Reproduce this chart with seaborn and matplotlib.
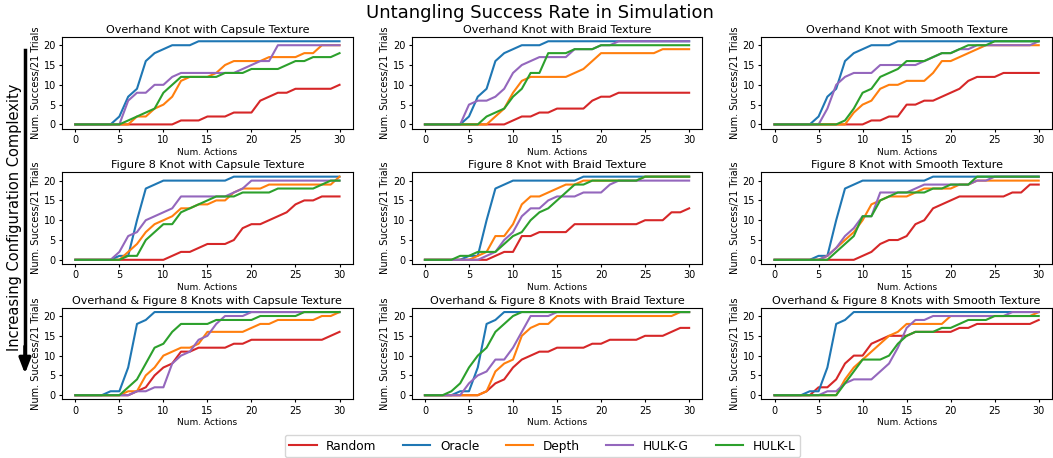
import matplotlib.pyplot as plt
import pandas as pd
import seaborn as sns

actions = list(range(31))
methods = ["Random", "Oracle", "Depth", "HULK-G", "HULK-L"]
colors = ["#d62728", "#1f77b4", "#ff7f0e", "#9467bd", "#2ca02c"]
knots = ["Overhand Knot", "Figure 8 Knot", "Overhand & Figure 8 Knots"]
textures = ["Capsule", "Braid", "Smooth"]

# oracle is the same for every texture of a knot
oracle_oh = [0, 0, 0, 0, 0, 2, 7, 9, 16, 18, 19, 20, 20, 20] + [21] * 17
oracle_f8 = [0, 0, 0, 0, 0, 1, 1, 10, 18, 19] + [20] * 8 + [21] * 13
oracle_both = [0, 0, 0, 0, 1, 1, 7, 18, 19] + [21] * 22

# Overhand knot
oh_capsule = {
    "Random": [0] * 12 + [1, 1, 1, 2, 2, 2, 3, 3, 3, 6, 7, 8, 8, 9, 9, 9, 9, 9, 10],
    "Oracle": oracle_oh,
    "Depth": [0] * 7 + [2, 2, 4, 5, 7, 11, 12, 12, 12, 13, 15, 16, 16, 16, 16, 17, 17, 17, 17, 18, 18, 20, 20, 20],
    "HULK-G": [0] * 6 + [6, 8, 8, 10, 10, 12, 13, 13, 13, 13, 13, 13, 13, 14, 15, 16, 16, 20] + [20] * 7,
    "HULK-L": [0] * 6 + [1, 2, 3, 4, 8, 10, 12, 12, 12, 12, 12, 13, 13, 13, 14, 14, 14, 14, 15, 16, 16, 17, 17, 17, 18],
}
oh_braid = {
    "Random": [0] * 10 + [1, 2, 2, 3, 3, 4, 4, 4, 4, 6, 7, 7, 8] + [8] * 8,
    "Oracle": oracle_oh,
    "Depth": [0] * 8 + [2, 4, 8, 11, 12, 12, 12, 12, 12, 13, 14, 16, 18, 18, 18, 18, 18, 18, 18, 19, 19, 19, 19],
    "HULK-G": [0] * 5 + [5, 6, 6, 7, 9, 13, 15, 16, 17, 17, 17, 17, 19, 19, 19, 20, 20, 21] + [21] * 8,
    "HULK-L": [0] * 7 + [2, 3, 4, 7, 9, 13, 13, 18, 18, 18, 19, 19, 19, 20] + [20] * 10,
}
oh_smooth = {
    "Random": [0] * 11 + [1, 1, 2, 2, 5, 5, 6, 6, 7, 8, 9, 11, 12, 12, 12, 13, 13, 13, 13, 13],
    "Oracle": oracle_oh,
    "Depth": [0] * 9 + [3, 5, 6, 9, 10, 10, 11, 11, 11, 13, 16, 16, 17, 18, 19, 20] + [20] * 6,
    "HULK-G": [0] * 6 + [4, 10, 12, 13, 13, 13, 15, 15, 15, 15, 15, 16, 17, 18, 18, 19, 19, 20, 20, 20, 20, 20, 20, 20, 21],
    "HULK-L": [0] * 8 + [1, 4, 8, 9, 12, 13, 14, 16, 16, 16, 17, 18, 18, 19, 20, 20, 20] + [21] * 6,
}

# Figure 8 knot
f8_capsule = {
    "Random": [0] * 11 + [1, 2, 2, 3, 4, 4, 4, 5, 8, 9, 9, 10, 11, 12, 14, 15, 15, 16, 16, 16],
    "Oracle": oracle_f8,
    "Depth": [0] * 6 + [2, 4, 7, 9, 10, 11, 13, 13, 14, 14, 15, 15, 17, 18, 18, 18, 19] + [19] * 7 + [21],
    "HULK-G": [0] * 5 + [2, 6, 7, 10, 11, 12, 13, 16, 16, 16, 16, 16, 16, 17, 18, 20] + [20] * 10,
    "HULK-L": [0] * 6 + [1, 1, 5, 7, 9, 9, 12, 13, 14, 15, 16, 16, 16, 17, 17, 17, 17, 18, 18, 18, 18, 18, 19, 20, 20],
}
f8_braid = {
    "Random": [0] * 8 + [1, 2, 2, 6, 6, 7, 7, 7, 7, 9] + [9] * 7 + [10, 10, 10, 12, 12, 13],
    "Oracle": oracle_f8,
    "Depth": [0] * 6 + [1, 2, 6, 6, 9, 14, 16, 16, 17, 18, 19, 19, 20] + [20] * 6 + [21] * 6,
    "HULK-G": [0] * 7 + [1, 2, 5, 7, 11, 13, 13, 15, 16, 16, 16, 17, 17, 17, 19, 20] + [20] * 8,
    "HULK-L": [0] * 4 + [1, 1, 2, 2, 2, 4, 6, 7, 10, 12, 13, 15, 17, 19, 19, 20] + [20] * 5 + [21] * 6,
}
f8_smooth = {
    "Random": [0] * 10 + [1, 2, 4, 5, 5, 6, 9, 10, 13, 14, 15, 16, 16, 16, 16, 16, 16, 17, 17, 19, 19],
    "Oracle": oracle_f8,
    "Depth": [0] * 6 + [1, 3, 5, 7, 10, 14, 15, 16, 16, 16, 17, 18, 18, 18, 18, 19, 19] + [20] * 8,
    "HULK-G": [0] * 6 + [1, 3, 6, 8, 11, 11, 17, 17, 17, 17, 18, 19, 19, 19, 19, 19, 19, 20, 20] + [21] * 6,
    "HULK-L": [0] * 7 + [2, 4, 6, 11, 11, 15, 16, 17, 17, 17, 17, 18, 18, 19, 19, 19] + [21] * 8,
}

# Overhand & Figure 8 knots
both_capsule = {
    "Random": [0] * 7 + [1, 2, 5, 7, 8, 11, 11, 12, 12, 12, 12, 13, 13, 14] + [14] * 8 + [15, 16],
    "Oracle": oracle_both,
    "Depth": [0] * 6 + [1, 1, 5, 7, 10, 11, 12, 12, 13, 16, 16, 16, 16, 16, 17, 18, 18, 19, 19, 19, 19, 19, 20, 20, 21],
    "HULK-G": [0] * 7 + [1, 1, 2, 2, 8, 10, 11, 14, 15, 18, 20, 20, 20] + [21] * 11,
    "HULK-L": [0] * 6 + [2, 4, 8, 12, 13, 16, 18, 18, 18, 18, 19, 19, 19, 19, 19, 20, 20, 20, 20, 20] + [21] * 5,
}
both_braid = {
    "Random": [0] * 7 + [1, 3, 4, 7, 9, 10, 11, 11, 12, 12, 12, 12, 13, 13, 14, 14, 14, 14, 15, 15, 15, 16, 17, 17],
    "Oracle": oracle_both,
    "Depth": [0] * 7 + [1, 6, 8, 9, 15, 17, 18, 18, 20] + [20] * 13 + [21, 21],
    "HULK-G": [0] * 5 + [3, 5, 6, 9, 9, 12, 16, 20, 20, 20] + [21] * 16,
    "HULK-L": [0] * 3 + [1, 3, 7, 10, 12, 16, 18, 20] + [21] * 20,
}
both_smooth = {
    "Random": [0] * 5 + [2, 2, 4, 8, 10, 10, 13, 14, 15, 15, 15, 16, 16, 16, 16, 16, 17, 17, 18, 18, 18, 18, 18, 18, 18, 19],
    "Oracle": oracle_both,
    "Depth": [0] * 8 + [4, 7, 9, 11, 13, 15, 16, 18, 18, 18, 18, 18, 20] + [20] * 9 + [21],
    "HULK-G": [0] * 6 + [1, 1, 3, 4, 4, 4, 6, 8, 12, 17, 19, 19, 20] + [20] * 8 + [21] * 4,
    "HULK-L": [0] * 8 + [3, 6, 9, 9, 9, 10, 13, 15, 16, 16, 16, 17, 17, 18, 19, 19, 19, 20] + [20] * 5,
}

panels = [
    [oh_capsule, oh_braid, oh_smooth],
    [f8_capsule, f8_braid, f8_smooth],
    [both_capsule, both_braid, both_smooth],
]

rows = []
for i, knot in enumerate(knots):
    for j, texture in enumerate(textures):
        for m in methods:
            for a, s in zip(actions, panels[i][j][m]):
                rows.append({"knot": knot, "texture": texture, "method": m, "action": a, "success": s})
df = pd.DataFrame(rows)

fig, axes = plt.subplots(3, 3, figsize=(10.53, 4.58), dpi=100)
fig.subplots_adjust(left=0.059, right=0.999, bottom=0.128, top=0.919, wspace=0.203, hspace=0.48)

for i, knot in enumerate(knots):
    for j, texture in enumerate(textures):
        ax = axes[i, j]
        sub = df[(df.knot == knot) & (df.texture == texture)]
        sns.lineplot(data=sub, x="action", y="success", hue="method", hue_order=methods,
                     palette=colors, ax=ax, legend=(i == 0 and j == 0), linewidth=1.5)
        ax.set_title(f"{knot} with {texture} Texture", fontsize=8, pad=3)
        ax.set_xticks(range(0, 31, 5))
        ax.set_yticks(range(0, 21, 5))
        ax.tick_params(labelsize=7, length=2.5, pad=2)
        ax.set_xlabel("Num. Actions", fontsize=6.5, labelpad=2)
        ax.set_ylabel("Num. Success/21 Trials", fontsize=7, labelpad=2)

handles, labels = axes[0, 0].get_legend_handles_labels()
axes[0, 0].get_legend().remove()
fig.legend(handles, labels, loc="lower center", bbox_to_anchor=(0.515, -0.012), ncol=5,
           fontsize=8.7, handlelength=2.25, columnspacing=2.2, handletextpad=0.8)

fig.suptitle("Untangling Success Rate in Simulation", fontsize=13, x=0.513, y=0.992)
fig.text(0.014, 0.526, "Increasing Configuration Complexity", rotation=90, fontsize=10.5,
         ha="center", va="center")
fig.add_artist(plt.Line2D([0.0237, 0.0237], [0.891, 0.21], color="black", lw=2.5,
                          transform=fig.transFigure))
axes[0, 0].annotate("", xy=(0.0237, 0.178), xytext=(0.0237, 0.25), xycoords="figure fraction",
                    textcoords="figure fraction",
                    arrowprops=dict(arrowstyle="-|>,head_width=0.35,head_length=0.9", color="black", lw=2.5))

fig.savefig("out.png", dpi=100)
